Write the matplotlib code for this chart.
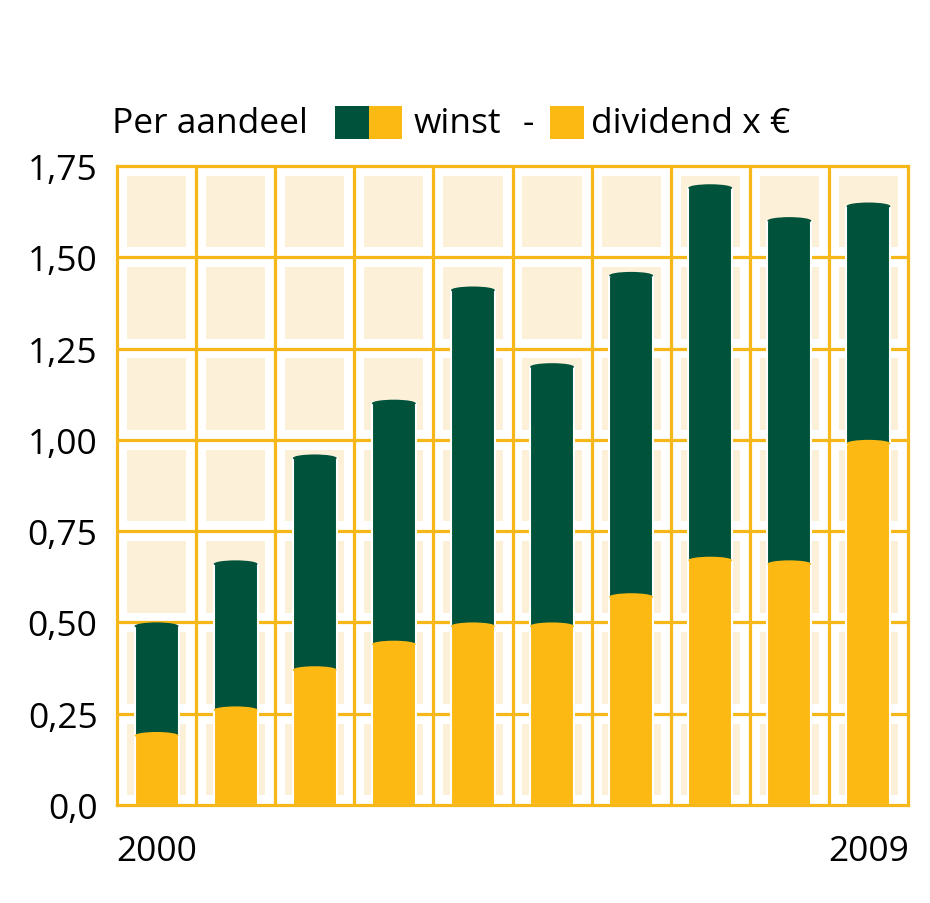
import matplotlib.pyplot as plt
from matplotlib.patches import Rectangle, Ellipse

years = ["2000", "2001", "2002", "2003", "2004", "2005", "2006", "2007", "2008", "2009"]
winst = [0.50, 0.67, 0.96, 1.11, 1.42, 1.21, 1.46, 1.70, 1.61, 1.65]
dividend = [0.20, 0.27, 0.38, 0.45, 0.50, 0.50, 0.58, 0.68, 0.67, 1.00]
y_ticks = [0, 0.25, 0.5, 0.75, 1.0, 1.25, 1.5, 1.75]
y_labels = ["0,0", "0,25", "0,50", "0,75", "1,00", "1,25", "1,50", "1,75"]
x_labels = ["2000", "", "", "", "", "", "", "", "", "2009"]

GREEN = "#00523a"
YELLOW = "#fdb913"
GRID = "#f6b719"
BEIGE = "#fdf0d9"
FONT = "Open Sans"
FS = 25.5

W, H = 930, 904
fig = plt.figure(figsize=(W / 100, H / 100), dpi=100)
ax = fig.add_axes([117 / W, 1 - 806 / H, 791 / W, 639 / H])

n = len(years)
ax.set_xlim(0, n)
ax.set_ylim(0, 1.75)

# beige inset squares in each grid cell
mx, my = 0.126, 0.027
for i in range(n):
    for r in range(7):
        ax.add_patch(Rectangle((i + mx, r * 0.25 + my), 1 - 2 * mx, 0.25 - 2 * my,
                               facecolor=BEIGE, edgecolor="none", zorder=1))

for i in range(1, n):
    ax.axvline(i, color=GRID, lw=2.3, zorder=2)
for y in y_ticks[1:-1]:
    ax.axhline(y, color=GRID, lw=2.3, zorder=2)

bw = 0.556
cap = 0.01
xs = [i + 0.5 for i in range(n)]


def capped_bars(values, color, z):
    ax.bar(xs, [v - cap for v in values], width=bw, color=color,
           edgecolor="white", linewidth=1.5, zorder=z)
    for x, v in zip(xs, values):
        ax.add_patch(Ellipse((x, v - cap), bw, 2 * cap, facecolor=color,
                             edgecolor="none", zorder=z + 0.5))


capped_bars(winst, GREEN, 3)
capped_bars(dividend, YELLOW, 5)

for s in ax.spines.values():
    s.set_color(GRID)
    s.set_linewidth(2.3)
    s.set_zorder(10)

ax.set_yticks(y_ticks)
ax.set_yticklabels(y_labels, fontsize=FS, fontname=FONT)
ax.set_xticks(xs)
ax.set_xticklabels(x_labels, fontsize=FS, fontname=FONT)
ax.tick_params(length=0, pad=14, axis="y")
ax.tick_params(length=0, pad=21, axis="x")

# legend header
def fx(px):
    return px / W


def fy(py):
    return 1 - py / H


ty = fy(124)
fig.text(fx(112), ty, "Per aandeel", fontsize=FS, fontname=FONT, va="center")
fig.patches.append(Rectangle((fx(335), fy(140)), 34 / W, 33 / H, facecolor=GREEN,
                             edgecolor="none", transform=fig.transFigure, figure=fig))
fig.patches.append(Rectangle((fx(369), fy(140)), 33 / W, 33 / H, facecolor=YELLOW,
                             edgecolor="none", transform=fig.transFigure, figure=fig))
fig.text(fx(414), ty, "winst", fontsize=FS, fontname=FONT, va="center")
fig.text(fx(523), ty, "-", fontsize=FS, fontname=FONT, va="center")
fig.patches.append(Rectangle((fx(550), fy(140)), 34 / W, 33 / H, facecolor=YELLOW,
                             edgecolor="none", transform=fig.transFigure, figure=fig))
fig.text(fx(591), ty, "dividend x €", fontsize=FS, fontname=FONT, va="center")

fig.savefig("out.png", dpi=100)
